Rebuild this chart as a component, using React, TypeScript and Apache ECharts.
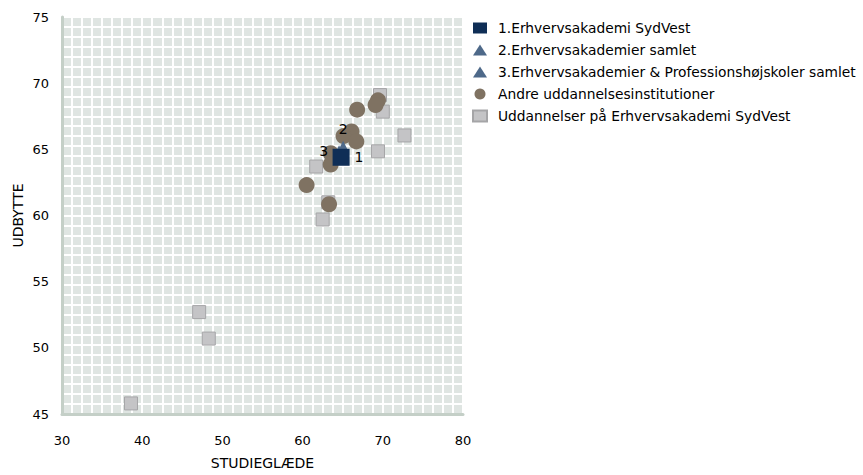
import React, { useEffect, useRef } from "react";
import * as echarts from "echarts";

const FONT = "DejaVu Sans";

const seriesNames = [
  "1.Erhvervsakademi SydVest",
  "2.Erhvervsakademier samlet",
  "3.Erhvervsakademier & Professionshøjskoler samlet",
  "Andre uddannelsesinstitutioner",
  "Uddannelser på Erhvervsakademi SydVest",
];

// [STUDIEGLÆDE, UDBYTTE]
const sydVest = [[64.8, 64.4]];
const samlet = [[65.05, 65.2]];
const samletProf = [[64.55, 64.85]];
const andre = [
  [66.8, 68.0],
  [69.4, 68.7],
  [69.1, 68.35],
  [66.1, 66.35],
  [65.1, 66.0],
  [66.7, 65.6],
  [63.5, 64.7],
  [63.5, 63.85],
  [60.5, 62.3],
  [63.3, 60.85],
];
const uddannelser = [
  [69.65, 69.1],
  [70.0, 67.85],
  [72.7, 66.05],
  [69.4, 64.85],
  [61.7, 63.7],
  [63.2, 61.0],
  [62.5, 59.7],
  [47.1, 52.7],
  [48.3, 50.7],
  [38.6, 45.8],
];

const xTicks = { min: 30, max: 80, step: 10, minor: 1.25 };
const yTicks = { min: 45, max: 75, step: 5, minor: 0.75 };

export default function App() {
  const ref = useRef<HTMLDivElement>(null);

  useEffect(() => {
    if (!ref.current) return;
    const chart = echarts.init(ref.current, undefined, { renderer: "svg" });
    const labelStyle = { fontFamily: FONT, fontSize: 14, color: "#000" };
    chart.setOption({
      animation: false,
      backgroundColor: "#fff",
      textStyle: { fontFamily: FONT },
      grid: {
        left: 62,
        right: 400,
        top: 17,
        bottom: 54,
        show: true,
        backgroundColor: "#dfe5e2",
        borderWidth: 0,
      },
      legend: {
        orient: "vertical",
        left: 467,
        top: 16,
        itemWidth: 14,
        itemHeight: 11,
        itemGap: 8,
        data: seriesNames,
        textStyle: {
          fontFamily: FONT,
          fontSize: 13.8,
          color: "#000",
          lineHeight: 14,
          padding: [0, 0, 0, 6],
        },
      },
      xAxis: [
        {
          type: "value",
          min: xTicks.min,
          max: xTicks.max,
          interval: xTicks.step,
          name: "STUDIEGLÆDE",
          nameLocation: "middle",
          nameGap: 42,
          nameTextStyle: labelStyle,
          axisLine: { show: true, lineStyle: { color: "#c4cfc7", width: 3 } },
          axisTick: { show: false },
          splitLine: { show: false },
          axisLabel: { fontFamily: FONT, fontSize: 13, color: "#000", margin: 20 },
        },
        {
          type: "value",
          min: xTicks.min,
          max: xTicks.max,
          interval: xTicks.minor,
          position: "top",
          axisLine: { show: false },
          axisTick: { show: false },
          axisLabel: { show: false },
          splitLine: { show: true, lineStyle: { color: "#ffffff", width: 2 } },
        },
      ],
      yAxis: [
        {
          type: "value",
          min: yTicks.min,
          max: yTicks.max,
          interval: yTicks.step,
          name: "UDBYTTE",
          nameLocation: "middle",
          nameGap: 37,
          nameTextStyle: labelStyle,
          axisLine: { show: true, lineStyle: { color: "#c4cfc7", width: 3 } },
          axisTick: { show: false },
          splitLine: { show: false },
          axisLabel: { fontFamily: FONT, fontSize: 13, color: "#000", margin: 13 },
        },
        {
          type: "value",
          min: yTicks.min,
          max: yTicks.max,
          interval: yTicks.minor,
          position: "right",
          axisLine: { show: false },
          axisTick: { show: false },
          axisLabel: { show: false },
          splitLine: { show: true, lineStyle: { color: "#ffffff", width: 2 } },
        },
      ],
      series: [
        {
          name: seriesNames[4],
          type: "scatter",
          symbol: "rect",
          symbolSize: 13,
          data: uddannelser,
          itemStyle: { color: "#c4c4c6", borderColor: "#a5a5a7", borderWidth: 1, opacity: 1 },
        },
        {
          name: seriesNames[3],
          type: "scatter",
          symbol: "circle",
          symbolSize: 16,
          data: andre,
          itemStyle: { color: "#7f7262", opacity: 1 },
        },
        {
          name: seriesNames[2],
          type: "scatter",
          symbol: "triangle",
          symbolSize: 12,
          data: samletProf,
          itemStyle: { color: "#4e6989", opacity: 1 },
          label: { show: true, position: "left", formatter: "3", ...labelStyle },
        },
        {
          name: seriesNames[1],
          type: "scatter",
          symbol: "triangle",
          symbolSize: 12,
          data: samlet,
          itemStyle: { color: "#4e6989", opacity: 1 },
          label: { show: true, position: "top", formatter: "2", ...labelStyle },
        },
        {
          name: seriesNames[0],
          type: "scatter",
          symbol: "rect",
          symbolSize: 17,
          data: sydVest,
          itemStyle: { color: "#0f2e56", opacity: 1 },
          label: { show: true, position: "right", formatter: "1", ...labelStyle },
        },
      ],
    });
    return () => chart.dispose();
  }, []);

  return (
    <div
      ref={ref}
      style={{ position: "fixed", left: 0, top: 0, width: 863, height: 475 }}
    />
  );
}
